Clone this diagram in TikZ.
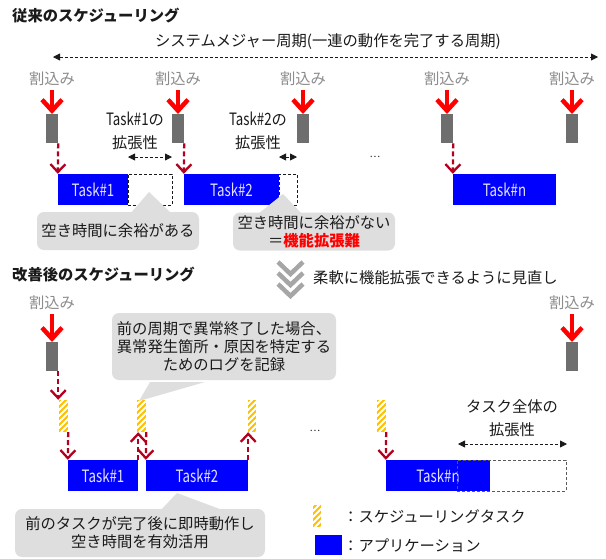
\documentclass[tikz,border=0pt]{standalone}
\usepackage{fontspec}
\setmainfont{Noto Sans CJK JP}
\newfontfamily\cond[FakeStretch=0.78]{Noto Sans CJK JP}
\usetikzlibrary{arrows.meta}
\definecolor{ink}{RGB}{26,26,26}
\definecolor{gtxt}{RGB}{140,140,140}
\definecolor{barg}{RGB}{110,110,110}
\definecolor{callg}{RGB}{222,222,222}
\definecolor{tblue}{RGB}{0,0,255}
\definecolor{tlabel}{RGB}{225,225,255}
\definecolor{ybar}{RGB}{255,192,0}
\definecolor{chev}{RGB}{166,166,166}
\definecolor{dred}{RGB}{180,0,30}
\definecolor{egray}{RGB}{90,90,90}
\begin{document}
\begin{tikzpicture}[x=1pt,y=-1pt,
  txt/.style={font=\fontsize{15.3}{18}\selectfont, text=ink, inner sep=0pt},
  gtxt/.style={txt, text=gtxt},
  ttl/.style={font=\fontsize{15.3}{18}\selectfont\bfseries, text=ink, inner sep=0pt, anchor=west},
  irq/.style={fill=barg, minimum width=12pt, minimum height=29pt, inner sep=0pt, anchor=north},
  task/.style={fill=tblue, text=tlabel, font=\cond\fontsize{17}{20}\selectfont, inner sep=0pt, minimum height=31pt},
  ebox/.style={draw=ink, line width=0.9pt, dash pattern=on 3pt off 2pt, inner sep=0pt, minimum height=31pt},
  sbar/.style={fill=ybar, inner sep=0pt, minimum width=9pt, minimum height=32pt,
    path picture={\foreach \k in {-40,-34,...,16}{\draw[white,line width=2pt] ([xshift=\k pt]path picture bounding box.south west) -- ++(45pt,45pt);}}},
  callout/.style={fill=callg, rounded corners=7pt, inner sep=0pt, align=center, font=\fontsize{15.3}{18}\selectfont, text=ink},
  rarr/.style={draw=red, line width=4.5pt, -{Straight Barb[length=11pt,width=20pt]}},
  darr/.style={draw=dred, line width=2.3pt, dash pattern=on 5pt off 3pt, -{Straight Barb[length=8pt,width=15pt,line width=2.3pt]}},
  parr/.style={draw=ink, line width=0.8pt, dash pattern=on 3pt off 2pt, {Triangle[length=7pt,width=7pt]}-{Triangle[length=7pt,width=7pt]}},
  dots/.style={font=\fontsize{10}{12}\selectfont, text=ink, inner sep=0pt}
]
\useasboundingbox (0,0) rectangle (606,558);

% ===== top section =====
\node[ttl] (title1) at (12,16) {従来のスケジューリング};
\node[txt] (period) at (328,42) {システムメジャー周期(一連の動作を完了する周期)};
\coordinate (pL) at (53,57);
\coordinate (pR) at (598,57);
\draw[parr] (pL) -- (pR);

\foreach \n/\xx in {1/52,2/178,3/303,4/447,5/572}{
  \node[gtxt] (i\n) at (\xx,79) {割込み};
  \node[irq] (b\n) at (\xx,114) {};
  \draw[rarr, shorten <=4pt] (i\n.south) -- (b\n.north);
}

\node[ebox, minimum width=44pt] (e1) at (150,189.5) {};
\node[ebox, minimum width=18pt] (e2) at (288,189.5) {};
\node[task, minimum width=70pt] (t1) at (93,189.5) {Task\#1};
\node[task, minimum width=95pt] (t2) at (231.5,189.5) {Task\#2};
\node[task, minimum width=103pt] (tn) at (504.5,189.5) {Task\#n};

\draw[darr] (b1.south east) -- (t1.north west);
\draw[darr] (b2.south east) -- (t2.north west);
\draw[darr] (b4.south east) -- (tn.north west);

\node[txt, align=center, font=\fontsize{15.3}{23}\selectfont] (x1) at (135,131) {{\cond\fontsize{17}{23}\selectfont Task\#1}の\\拡張性};
\node[txt, align=center, font=\fontsize{15.3}{23}\selectfont] (x2) at (258,131) {{\cond\fontsize{17}{23}\selectfont Task\#2}の\\拡張性};
\coordinate (x1a) at (128,157);
\coordinate (x1b) at (172,157);
\coordinate (x2a) at (279,157);
\coordinate (x2b) at (297,157);
\draw[parr] (x1a) -- (x1b);
\draw[parr] (x2a) -- (x2b);

\node[dots] (dt1) at (375,157) {…};

% callouts top
\fill[callg] (130,214) -- (149,192) -- (172,214) -- cycle;
\node[callout, minimum width=162pt, minimum height=38pt] (c1) at (118,231) {空き時間に余裕がある};
\fill[callg] (258,214) -- (283,194) -- (302,214) -- cycle;
\node[callout, minimum width=162pt, minimum height=38pt] (c2) at (314,231.5) {空き時間に余裕がない\\＝{\bfseries\color{red}機能拡張難}};

% chevrons
\foreach \yy in {262,273,284}{
  \draw[chev, line width=4.5pt, miter limit=10] (278,\yy) -- (290.5,\yy+12) -- (303,\yy);
}
\node[txt, anchor=west] (rev) at (313,278) {柔軟に機能拡張できるように見直し};

% ===== bottom section =====
\node[ttl] (title2) at (12,275) {改善後のスケジューリング};
\foreach \n/\xx in {6/52,7/572}{
  \node[gtxt] (i\n) at (\xx,303) {割込み};
  \node[irq] (b\n) at (\xx,342) {};
  \draw[rarr, shorten <=4pt] (i\n.south) -- (b\n.north);
}

\node[sbar] (s1) at (63.5,416) {};
\node[sbar] (s2) at (141.5,416) {};
\node[sbar, minimum width=8pt] (s3) at (252,416) {};
\node[sbar] (s4) at (381.5,416) {};

\node[task, minimum width=70pt] (t3) at (103,475.5) {Task\#1};
\node[task, minimum width=102pt] (t4) at (197,475.5) {Task\#2};
\node[task, minimum width=104pt] (tn2) at (438,475.5) {Task\#n};
\node[ebox, draw=egray, minimum width=109pt] (e3) at (511.5,475.5) {};

\draw[darr] (b6.south east) -- (b6.south east |- s1.north);
\draw[darr] (s1.south east) -- (t3.north west);
\draw[darr] (t3.north east) -- (t3.north east |- s2.south);
\draw[darr] (s2.south east) -- (t4.north west);
\draw[darr] (t4.north east) -- (t4.north east |- s3.south);
\draw[darr] (s4.south east) -- (tn2.north west);

\node[dots] (dt2) at (315,431) {…};

\node[txt, align=center, font=\fontsize{15.3}{23}\selectfont] (x3) at (512,418) {タスク全体の\\拡張性};
\coordinate (x3a) at (458,444);
\coordinate (x3b) at (567,444);
\draw[parr] (x3a) -- (x3b);

% callouts bottom
\fill[callg] (150,382) -- (139,401) -- (205,382) -- cycle;
\node[callout, minimum width=224pt, minimum height=67pt] (c3) at (224,346.5) {前の周期で異常終了した場合、\\異常発生箇所・原因を特定する\\ためのログを記録};
\fill[callg] (160,511) -- (177,493) -- (225,511) -- cycle;
\node[callout, minimum width=250pt, minimum height=48pt] (c4) at (140,533) {前のタスクが完了後に即時動作し\\空き時間を有効活用};

% legend
\node[sbar, minimum width=8pt, minimum height=22pt] (s5) at (317,516) {};
\node[txt, anchor=west] (lg1) at (343,517) {：スケジューリングタスク};
\node[fill=tblue, minimum width=27pt, minimum height=20pt, inner sep=0pt] (lb) at (328.5,545) {};
\node[txt, anchor=west] (lg2) at (343,546) {：アプリケーション};
\end{tikzpicture}
\end{document}
